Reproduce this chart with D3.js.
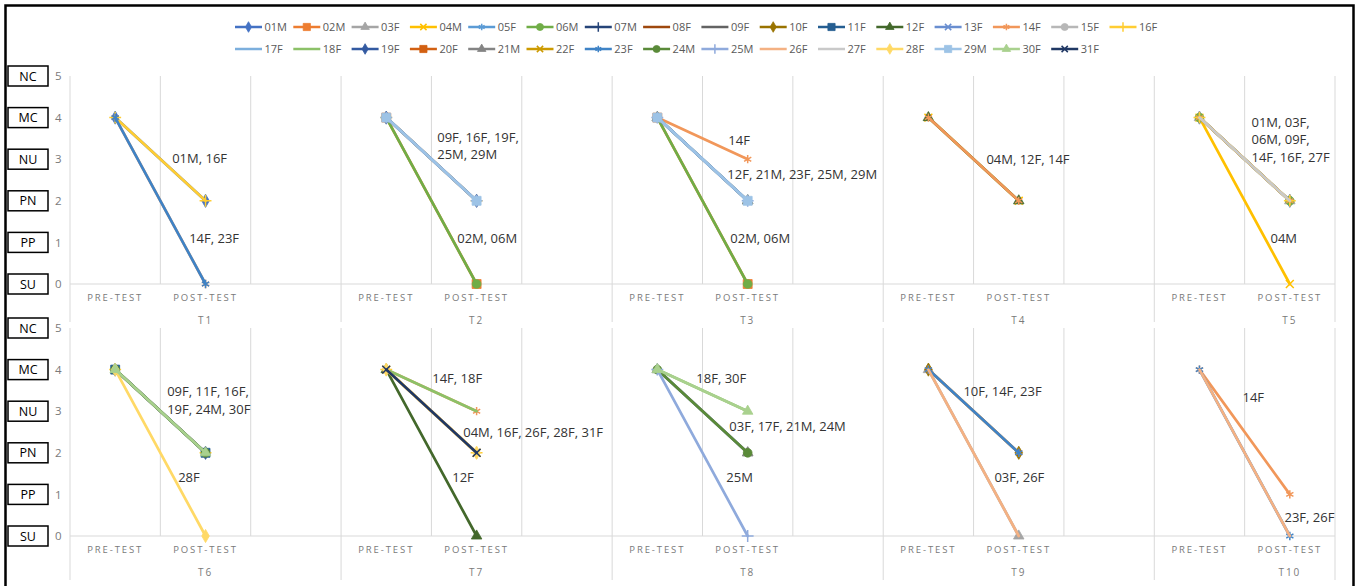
<!DOCTYPE html>
<html>
<head>
<meta charset="utf-8">
<script src="https://cdn.jsdelivr.net/npm/d3@7"></script>
<style>
  body { margin: 0; background: #fff; }
  svg { display: block; font-family: "Open Sans", sans-serif; }
</style>
</head>
<body>
<svg width="1357" height="586"></svg>
<script>
// series (students) in legend / drawing order
const students = ["01M","02M","03F","04M","05F","06M","07M","08F","09F","10F","11F","12F","13F","14F","15F","16F",
                  "17F","18F","19F","20F","21M","22F","23F","24M","25M","26F","27F","28F","29M","30F","31F"];
const tests = ["T1","T2","T3","T4","T5","T6","T7","T8","T9","T10"];
const phases = ["PRE-TEST","POST-TEST"];
const levelNames = ["SU","PP","PN","NU","MC","NC"];   // 0..5
const levelValues = [0,1,2,3,4,5];

// [student, pre, post] for each test
const scoresT1 = [["01M",4,2],["14F",4,0],["16F",4,2],["23F",4,0]];
const scoresT2 = [["02M",4,0],["06M",4,0],["09F",4,2],["16F",4,2],["19F",4,2],["25M",4,2],["29M",4,2]];
const scoresT3 = [["02M",4,0],["06M",4,0],["12F",4,2],["14F",4,3],["21M",4,2],["23F",4,2],["25M",4,2],["29M",4,2]];
const scoresT4 = [["04M",4,2],["12F",4,2],["14F",4,2]];
const scoresT5 = [["01M",4,2],["03F",4,2],["04M",4,0],["06M",4,2],["09F",4,2],["14F",4,2],["16F",4,2],["27F",4,2]];
const scoresT6 = [["09F",4,2],["11F",4,2],["16F",4,2],["19F",4,2],["24M",4,2],["28F",4,0],["30F",4,2]];
const scoresT7 = [["04M",4,2],["12F",4,0],["14F",4,3],["16F",4,2],["18F",4,3],["26F",4,2],["28F",4,2],["31F",4,2]];
const scoresT8 = [["03F",4,2],["17F",4,2],["18F",4,3],["21M",4,2],["24M",4,2],["25M",4,0],["30F",4,3]];
const scoresT9 = [["03F",4,0],["10F",4,2],["14F",4,2],["23F",4,2],["26F",4,0]];
const scoresT10 = [["14F",4,1],["23F",4,0],["26F",4,0]];
const scoresByTest = [scoresT1,scoresT2,scoresT3,scoresT4,scoresT5,scoresT6,scoresT7,scoresT8,scoresT9,scoresT10];

// styling (Excel-like default cycle)
const palette = ["#4472C4","#ED7D31","#A5A5A5","#FFC000","#5B9BD5","#70AD47","#264478","#9E480E","#636363",
                 "#997300","#255E91","#43682B","#698ED0","#F1975A","#B7B7B7","#FFCD33","#7CAFDD","#8CC168",
                 "#335AA1","#D26012","#848484","#CC9A00","#3F83C6","#5A8A39","#8FAADC","#F4B183","#C9C9C9",
                 "#FFD966","#9DC3E6","#A9D18E","#203864"];
const markerCycle = ["diamond","square","triangle","x","star","circle","plus","none","none"];

// data label placement: offset from pre point (px) and y in score units, line split sizes
const labelSpots = [
  {t:0, post:2, dx:57, y:3.03, split:[2]},
  {t:0, post:0, dx:74, y:1.1, split:[2]},
  {t:1, post:2, dx:51, y:3.53, split:[3,2]},
  {t:1, post:0, dx:71, y:1.1, split:[2]},
  {t:2, post:3, dx:71, y:3.46, split:[1]},
  {t:2, post:2, dx:70, y:2.64, split:[5]},
  {t:2, post:0, dx:73, y:1.1, split:[2]},
  {t:3, post:2, dx:58, y:3.0, split:[3]},
  {t:4, post:2, dx:52, y:3.89, split:[2,2,3]},
  {t:4, post:0, dx:71, y:1.1, split:[1]},
  {t:5, post:2, dx:52, y:3.47, split:[3,3]},
  {t:5, post:0, dx:63, y:1.4, split:[1]},
  {t:6, post:3, dx:46, y:3.78, split:[2]},
  {t:6, post:2, dx:77, y:2.5, split:[5]},
  {t:6, post:0, dx:66, y:1.42, split:[1]},
  {t:7, post:3, dx:39, y:3.78, split:[2]},
  {t:7, post:2, dx:72, y:2.63, split:[4]},
  {t:7, post:0, dx:69, y:1.42, split:[1]},
  {t:8, post:2, dx:35, y:3.47, split:[3]},
  {t:8, post:0, dx:66, y:1.42, split:[2]},
  {t:9, post:1, dx:43, y:3.33, split:[1]},
  {t:9, post:0, dx:85, y:0.46, split:[2]}
];

const svg = d3.select("svg");
const GRID = "#d9d9d9";
const AXIS_TEXT = "#7a7a7a";

// outer frame
svg.append("rect")
  .attr("x", 5.5).attr("y", 5.5).attr("width", 1348).attr("height", 600)
  .attr("fill", "none").attr("stroke", "#000").attr("stroke-width", 2.5);

function symbolFor(kind) {
  return {
    diamond: d3.symbolDiamond, square: d3.symbolSquare, triangle: d3.symbolTriangle,
    x: d3.symbolTimes, star: d3.symbolAsterisk, circle: d3.symbolCircle, plus: d3.symbolPlus
  }[kind];
}
const symbolSize = {diamond: 50, square: 80, triangle: 48, x: 42, star: 48, circle: 60, plus: 48};
const strokeOnly = {x: true, star: true, plus: true};

function drawMarker(g, kind, color, x, y, scale) {
  if (kind === "none") return;
  const p = g.append("path")
    .attr("d", d3.symbol().type(symbolFor(kind)).size(symbolSize[kind] * scale)())
    .attr("transform", "translate(" + x + "," + y + ")");
  if (strokeOnly[kind]) p.attr("fill", "none").attr("stroke", color).attr("stroke-width", 1.5);
  else p.attr("fill", color).attr("stroke", color).attr("stroke-width", 0.8);
}

// legend
const legend = svg.append("g");
students.forEach((s, i) => {
  const row = i < 16 ? 0 : 1;
  const col = row === 0 ? i : i - 16;
  const lx = 235 + col * 58.3, ly = row === 0 ? 27 : 49;
  const color = palette[i];
  legend.append("line").attr("x1", lx).attr("x2", lx + 27).attr("y1", ly).attr("y2", ly)
    .attr("stroke", color).attr("stroke-width", 2.5);
  drawMarker(legend, markerCycle[i % 9], color, lx + 13.5, ly, 0.65);
  legend.append("text").attr("x", lx + 29.5).attr("y", ly).attr("dy", "0.35em")
    .attr("font-size", 11).attr("fill", "#595959").text(s);
});

// two stacked charts of five tests each
const charts = [
  {tests: [0,1,2,3,4], y0: 284, y5: 76, tail: 38},
  {tests: [5,6,7,8,9], y0: 536, y5: 328, tail: 44}
];

charts.forEach(chart => {
  const keys = [];
  chart.tests.forEach((t, gi) => {
    keys.push(tests[t] + "|" + phases[0], tests[t] + "|" + phases[1]);
    if (gi < chart.tests.length - 1) keys.push(tests[t] + "|gap");
  });
  const x = d3.scaleBand().domain(keys).range([70, 1335]).paddingInner(0).paddingOuter(0);
  const y = d3.scaleLinear().domain([0, 5]).range([chart.y0, chart.y5]);
  const g = svg.append("g");
  const bw = x.bandwidth();

  // vertical gridlines at each category boundary, longer ones at group boundaries
  const bounds = keys.map(k => x(k)).concat([1335]);
  bounds.forEach((bx, i) => {
    const groupEdge = i === 0 || i === bounds.length - 1 || keys[i - 1].endsWith("|gap");
    g.append("line")
      .attr("x1", bx).attr("x2", bx)
      .attr("y1", y(5)).attr("y2", groupEdge ? y(0) + chart.tail : y(0))
      .attr("stroke", GRID).attr("stroke-width", 1);
  });
  // category axis line
  g.append("line").attr("x1", 70).attr("x2", 1335).attr("y1", y(0)).attr("y2", y(0))
    .attr("stroke", GRID).attr("stroke-width", 1.2);

  // category labels
  const xAxis = d3.axisBottom(x).tickSize(0).tickPadding(10)
    .tickFormat(k => k.endsWith("|gap") ? "" : k.split("|")[1]);
  const xa = g.append("g").attr("transform", "translate(0," + y(0) + ")").call(xAxis);
  xa.select(".domain").remove();
  xa.selectAll("text").attr("font-size", 9.5).attr("fill", AXIS_TEXT)
    .attr("font-family", "Open Sans").style("letter-spacing", "1.9px");

  // group labels (T1..)
  chart.tests.forEach(t => {
    g.append("text")
      .attr("x", x(tests[t] + "|" + phases[1]) + bw / 2)
      .attr("y", y(0) + 40)
      .attr("text-anchor", "middle").attr("font-size", 10).attr("fill", AXIS_TEXT)
      .style("letter-spacing", "1.9px").text(tests[t]);
  });

  // value axis
  const yAxis = d3.axisLeft(y).tickValues(levelValues).tickSize(0).tickFormat(d3.format("d"));
  const ya = g.append("g").attr("transform", "translate(70,0)").call(yAxis);
  ya.select(".domain").remove();
  ya.selectAll("text").attr("font-size", 11.5).attr("fill", AXIS_TEXT).attr("font-family", "Open Sans")
    .attr("text-anchor", "start").attr("x", -15);

  // level name boxes
  levelValues.forEach(v => {
    g.append("rect").attr("x", 8).attr("y", y(v) - 10).attr("width", 40).attr("height", 20)
      .attr("fill", "#fff").attr("stroke", "#000").attr("stroke-width", 1.5);
    g.append("text").attr("x", 28).attr("y", y(v)).attr("dy", "0.36em")
      .attr("text-anchor", "middle").attr("font-size", 12.5).attr("fill", "#000").text(levelNames[v]);
  });

  // series: line then markers, in series order
  students.forEach((s, si) => {
    const color = palette[si];
    const kind = markerCycle[si % 9];
    chart.tests.forEach(t => {
      const row = scoresByTest[t].find(r => r[0] === s);
      if (!row) return;
      const x1 = x(tests[t] + "|" + phases[0]) + bw / 2;
      const x2 = x(tests[t] + "|" + phases[1]) + bw / 2;
      g.append("path")
        .attr("d", d3.line()([[x1, y(row[1])], [x2, y(row[2])]]))
        .attr("stroke", color).attr("stroke-width", 2.7).attr("fill", "none")
        .attr("stroke-linecap", "round");
      drawMarker(g, kind, color, x1, y(row[1]), 1);
      drawMarker(g, kind, color, x2, y(row[2]), 1);
    });
  });

  // data labels: students sharing the same post score
  labelSpots.filter(l => chart.tests.includes(l.t)).forEach(l => {
    const ids = scoresByTest[l.t].filter(r => r[2] === l.post).map(r => r[0]).sort();
    const lines = [];
    let k = 0;
    l.split.forEach(n => { lines.push(ids.slice(k, k + n).join(", ") + (k + n < ids.length ? "," : "")); k += n; });
    const lx = x(tests[l.t] + "|" + phases[0]) + bw / 2 + l.dx;
    const txt = g.append("text").attr("x", lx).attr("y", y(l.y))
      .attr("font-size", 13).attr("fill", "#333");
    lines.forEach((ln, i) => {
      txt.append("tspan").attr("x", lx).attr("dy", i === 0 ? "0.36em" : 17.5).text(ln);
    });
  });
});
</script>
</body>
</html>
